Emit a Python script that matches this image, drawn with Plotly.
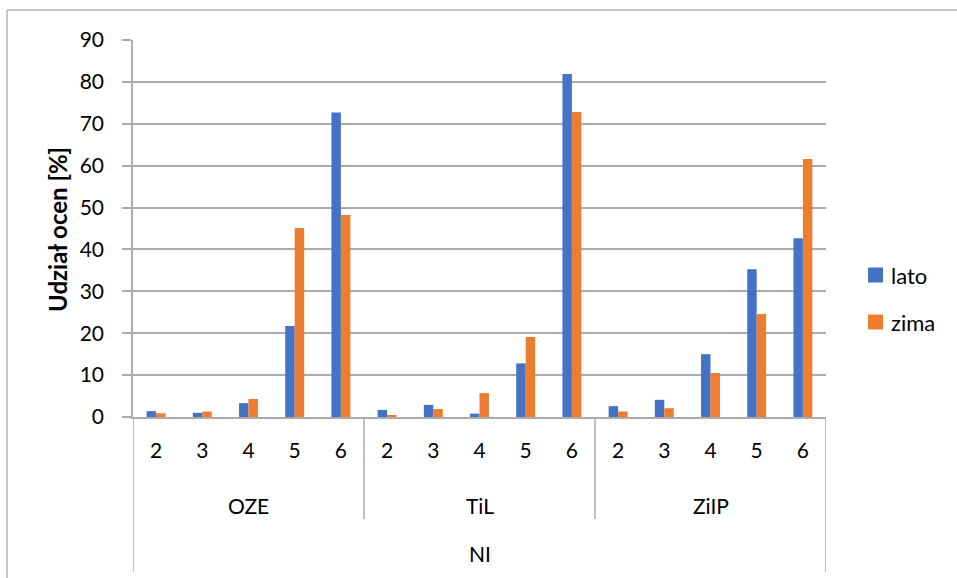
import plotly.graph_objects as go

# Category structure: grade within field of study, all under "NI"
groups = ["OZE", "TiL", "ZiIP"]
grades = ["2", "3", "4", "5", "6"]
top_label = "NI"

# Share of grades [%] per season
lato = [1.4, 1.0, 3.3, 21.7, 72.7,
        1.7, 2.9, 0.8, 12.8, 81.9,
        2.6, 4.1, 15.0, 35.3, 42.7]
zima = [0.9, 1.3, 4.3, 45.1, 48.2,
        0.4, 1.9, 5.7, 19.1, 72.8,
        1.3, 2.1, 10.5, 24.6, 61.6]

y_ticks = [0, 10, 20, 30, 40, 50, 60, 70, 80, 90]

BLUE = "#4472C4"
ORANGE = "#ED7D31"
GRID = "#ABABAB"
FONT = "Lato"
FS = 21

W, H = 957, 578
ML, MR, MT, MB = 133, 131, 40, 161
PW, PH = W - ML - MR, H - MT - MB

n_cat = len(groups) * len(grades)
xs = list(range(n_cat))
tick_text = grades * len(groups)


def px_x(px):
    return (px - ML) / PW


def px_y(py):
    return (H - MB - py) / PH


fig = go.Figure()
fig.add_trace(go.Bar(x=xs, y=lato, name="lato", marker_color=BLUE,
                     marker_line_width=0, showlegend=False))
fig.add_trace(go.Bar(x=xs, y=zima, name="zima", marker_color=ORANGE,
                     marker_line_width=0, showlegend=False))

shapes = []
annotations = []

# outer chart border (clipped at right and bottom)
shapes.append(dict(type="line", xref="paper", yref="paper",
                   x0=px_x(7), x1=px_x(W + 5), y0=px_y(10), y1=px_y(10),
                   line=dict(color="#B4B4B4", width=1.5)))
shapes.append(dict(type="line", xref="paper", yref="paper",
                   x0=px_x(7), x1=px_x(7), y0=px_y(10), y1=px_y(H + 5),
                   line=dict(color="#B4B4B4", width=1.5)))

# category dividers below the axis
n_g = len(grades)
for gi in range(len(groups) + 1):
    xb = gi * n_g - 0.5
    outer = gi in (0, len(groups))
    shapes.append(dict(type="line", xref="x", yref="paper",
                       x0=xb, x1=xb, y0=0, y1=px_y(572 if outer else 519),
                       line=dict(color=GRID, width=1.5)))

# group labels and top-level label
for gi, g in enumerate(groups):
    annotations.append(dict(x=gi * n_g + (n_g - 1) / 2, y=px_y(505),
                            xref="x", yref="paper", text=g, showarrow=False,
                            font=dict(family=FONT, size=FS, color="#000000"),
                            xanchor="center", yanchor="middle"))
annotations.append(dict(x=(n_cat - 1) / 2, y=px_y(553), xref="x", yref="paper",
                        text=top_label, showarrow=False,
                        font=dict(family=FONT, size=FS, color="#000000"),
                        xanchor="center", yanchor="middle"))

# y axis title
annotations.append(dict(x=px_x(57), y=px_y(230), xref="paper", yref="paper",
                        text="<b>Udział ocen [%]</b>", textangle=-90,
                        showarrow=False,
                        font=dict(family=FONT, size=24, color="#000000"),
                        xanchor="center", yanchor="middle"))

# legend
for name, color, cy in (("lato", BLUE, 275), ("zima", ORANGE, 322)):
    shapes.append(dict(type="rect", xref="paper", yref="paper",
                       x0=px_x(868), x1=px_x(883), y0=px_y(cy - 7.5), y1=px_y(cy + 7.5),
                       fillcolor=color, line=dict(width=0)))
    annotations.append(dict(x=px_x(889), y=px_y(cy), xref="paper", yref="paper",
                            text=name, showarrow=False,
                            font=dict(family=FONT, size=22, color="#000000"),
                            xanchor="left", yanchor="middle"))

fig.update_layout(
    width=W, height=H,
    margin=dict(l=ML, r=MR, t=MT, b=MB, pad=0),
    paper_bgcolor="white", plot_bgcolor="white",
    barmode="group", bargap=0.59, bargroupgap=0,
    font=dict(family=FONT, size=FS, color="#000000"),
    shapes=shapes, annotations=annotations,
    showlegend=False,
)
fig.update_xaxes(range=[-0.5, n_cat - 0.5], tickvals=xs, ticktext=tick_text,
                 showgrid=False, zeroline=False, showline=True,
                 linecolor=GRID, linewidth=1.5, ticks="",
                 ticklabelstandoff=14, tickfont=dict(family=FONT, size=FS))
fig.update_yaxes(range=[0, 90], tickvals=y_ticks, showgrid=True,
                 gridcolor=GRID, gridwidth=1.5, zeroline=False,
                 showline=True, linecolor=GRID, linewidth=1.5,
                 ticks="outside", ticklen=9, tickcolor=GRID, tickwidth=1.5,
                 ticklabelstandoff=14, tickfont=dict(family=FONT, size=FS))

fig.write_html("out.html")
